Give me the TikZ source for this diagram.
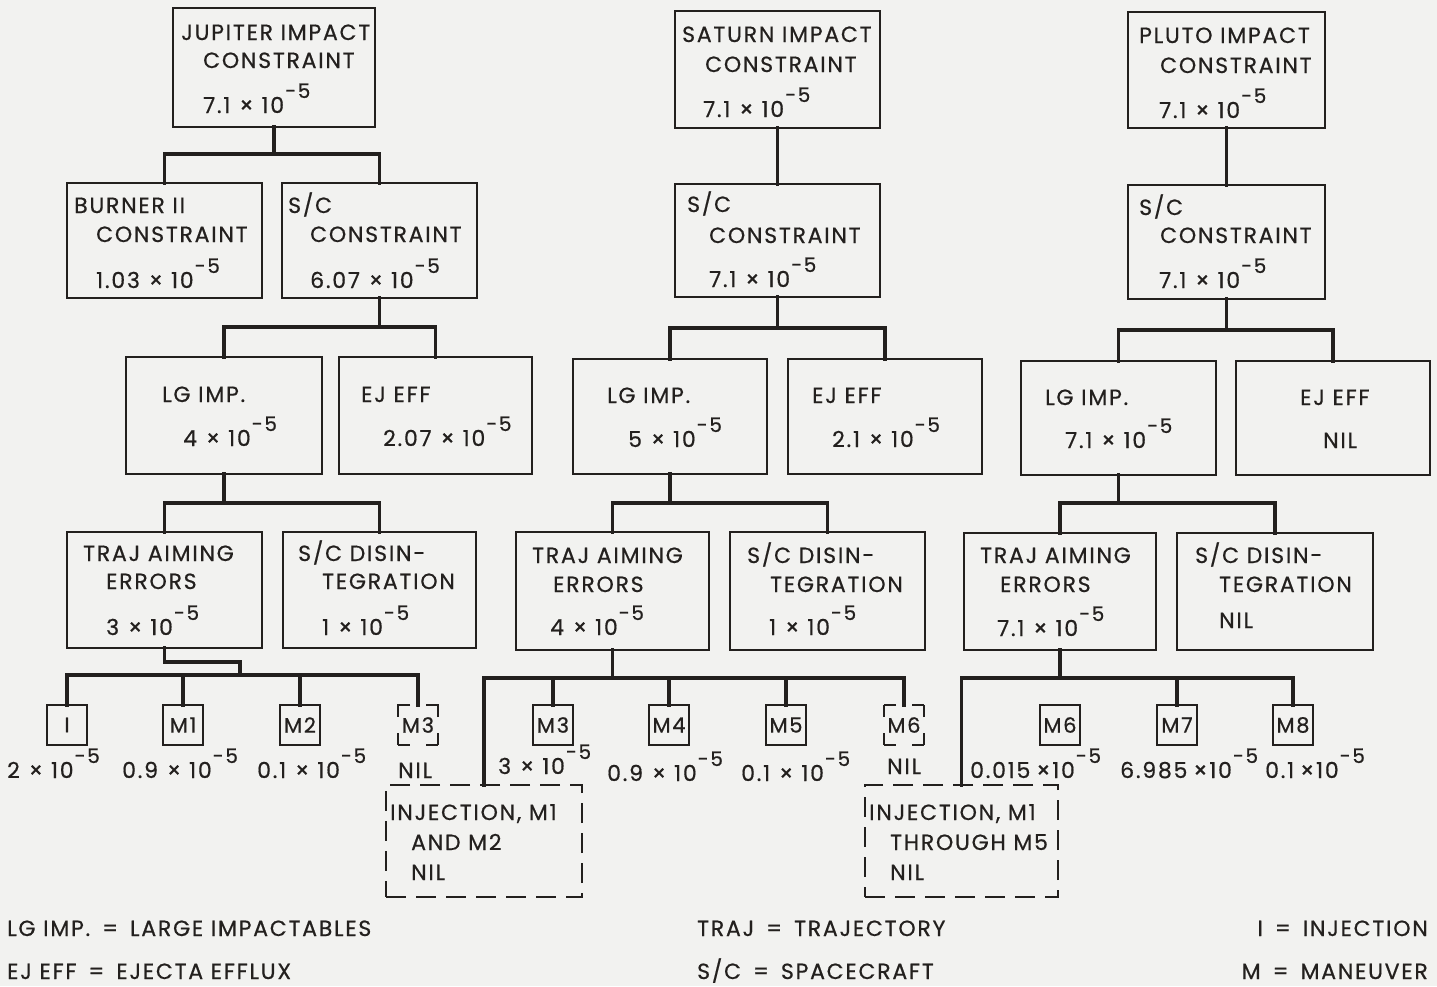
\documentclass[tikz,border=0pt]{standalone}
\usepackage{fontspec}
\setmainfont{Poppins}[LetterSpace=8, FakeBold=0.6]
\usetikzlibrary{calc}
\definecolor{ink}{RGB}{35,32,30}
\definecolor{paper}{RGB}{242,242,240}
\newcommand{\tenm}{10\hspace{1pt}\raisebox{15pt}{\fontsize{20}{20}\selectfont -5}}
\newcommand{\X}{\hspace{9pt}×\hspace{8pt}}
\newcommand{\Eq}{\hspace{12pt}=\hspace{12pt}}
\tikzset{
  box/.style={draw=ink, line width=2.2pt, rectangle, inner sep=0pt, outer sep=0pt},
  mbox/.style={box, minimum width=40pt, minimum height=40pt, font=\fontsize{21}{24}\selectfont, text=ink},
  mdash/.style={mbox, dash pattern=on 12pt off 16pt on 12pt off 0pt},
  dinj/.style={box, dash pattern=on 20pt off 10pt},
  txt/.style={anchor=base west, inner sep=0pt, text=ink, font=\fontsize{22}{26}\selectfont},
  rtxt/.style={txt, anchor=base east},
  conn/.style={draw=ink, line width=3.6pt, line join=miter, line cap=rect},
}
\newcommand{\bx}[6][box]{\node[#1, minimum width={#5-#3}, minimum height={#6-#4}] (#2) at ({(#3+#5)/2},{(#4+#6)/2}) {};}
\newcommand{\tl}[4]{\node[txt] (#1) at (#2,#3) {#4};}
\newcommand{\tree}[4]{%
  \draw[conn] (#1.south) -- (#1.south |- 0,#4);
  \draw[conn] (#2.north) |- (#3.north |- 0,#4) -- (#3.north);}
\begin{document}
\begin{tikzpicture}[x=1pt,y=-1pt]
\fill[paper] (0,0) rectangle (1437,986);
\useasboundingbox (0,0) rectangle (1437,986);

% ---------------- Jupiter ----------------
\bx{jtop}{173}{8}{375}{127}
\bx{jbur}{67}{183}{262}{298}
\bx{jsc}{282}{183}{477}{298}
\bx{jlg}{126}{357}{322}{474}
\bx{jej}{339}{357}{532}{474}
\bx{jtraj}{67}{532}{262}{648}
\bx{jdis}{283}{532}{476}{648}
\node[mbox] (jI) at (67,725) {I};
\node[mbox] (jM1) at (183,725) {M1};
\node[mbox] (jM2) at (300,725) {M2};
\node[mdash] (jM3) at (418,725) {M3};

\tl{ja1}{181}{40}{JUPITER IMPACT}
\tl{ja2}{203}{68}{CONSTRAINT}
\tl{ja3}{203}{113}{7.1\X\tenm}
\tl{jb1}{74}{213}{BURNER II}
\tl{jb2}{96}{242}{CONSTRAINT}
\tl{jb3}{96}{288}{1.03\X\tenm}
\tl{jc1}{288}{213}{S/C}
\tl{jc2}{310}{242}{CONSTRAINT}
\tl{jc3}{310}{288}{6.07\X\tenm}
\tl{jd1}{162}{402}{LG IMP.}
\tl{jd2}{183}{446}{4\X\tenm}
\tl{je1}{361}{402}{EJ EFF}
\tl{je2}{383}{446}{2.07\X\tenm}
\tl{jf1}{83}{561}{TRAJ AIMING}
\tl{jf2}{106}{589}{ERRORS}
\tl{jf3}{106}{635}{3\X\tenm}
\tl{jg1}{298}{561}{S/C DISIN-}
\tl{jg2}{322}{589}{TEGRATION}
\tl{jg3}{322}{635}{1\X\tenm}
\tl{jv1}{7}{778}{2\X\tenm}
\tl{jv2}{122}{778}{0.9\X\tenm}
\tl{jv3}{257}{778}{0.1\X\tenm}
\tl{jv4}{398}{778}{NIL}

\tree{jtop}{jbur}{jsc}{154}
\tree{jsc}{jlg}{jej}{327}
\tree{jlg}{jtraj}{jdis}{503}
\coordinate (jjog) at (240,662);
\draw[conn] (jtraj.south) |- (jjog) -- (jjog |- 0,675);
\draw[conn] (jI.north) |- (jM3.north |- 0,675) -- (jM3.north);
\draw[conn] (jM1.north) -- (jM1.north |- 0,675);
\draw[conn] (jM2.north) -- (jM2.north |- 0,675);

% ---------------- Saturn ----------------
\bx{stop}{675}{11}{880}{128}
\bx{ssc}{675}{184}{880}{297}
\bx{slg}{573}{359}{767}{474}
\bx{sej}{788}{359}{982}{474}
\bx{straj}{516}{532}{709}{650}
\bx{sdis}{730}{532}{925}{650}
\node[mbox] (sM3) at (553,725) {M3};
\node[mbox] (sM4) at (669,725) {M4};
\node[mbox] (sM5) at (786,725) {M5};
\node[mdash] (sM6) at (904,725) {M6};
\bx[dinj]{sinj}{386}{785}{582}{897}

\tl{sa1}{682}{42}{SATURN IMPACT}
\tl{sa2}{705}{72}{CONSTRAINT}
\tl{sa3}{703}{117}{7.1\X\tenm}
\tl{sb1}{687}{212}{S/C}
\tl{sb2}{709}{243}{CONSTRAINT}
\tl{sb3}{709}{287}{7.1\X\tenm}
\tl{sd1}{607}{403}{LG IMP.}
\tl{sd2}{628}{447}{5\X\tenm}
\tl{se1}{812}{403}{EJ EFF}
\tl{se2}{832}{447}{2.1\X\tenm}
\tl{sf1}{532}{563}{TRAJ AIMING}
\tl{sf2}{553}{592}{ERRORS}
\tl{sf3}{550}{635}{4\X\tenm}
\tl{sg1}{747}{563}{S/C DISIN-}
\tl{sg2}{770}{592}{TEGRATION}
\tl{sg3}{769}{635}{1\X\tenm}
\tl{sv1}{498}{774}{3\X\tenm}
\tl{sv2}{607}{781}{0.9\X\tenm}
\tl{sv3}{741}{781}{0.1\X\tenm}
\tl{sv4}{887}{774}{NIL}
\tl{si1}{390}{820}{INJECTION, M1}
\tl{si2}{411}{850}{AND M2}
\tl{si3}{411}{880}{NIL}

\draw[conn] (stop.south) -- (ssc.north);
\tree{ssc}{slg}{sej}{328}
\tree{slg}{straj}{sdis}{503}
\draw[conn] (straj.south) -- (straj.south |- 0,678);
\draw[conn] (sinj.north) |- (sM6.north |- 0,678) -- (sM6.north);
\draw[conn] (sM3.north) -- (sM3.north |- 0,678);
\draw[conn] (sM4.north) -- (sM4.north |- 0,678);
\draw[conn] (sM5.north) -- (sM5.north |- 0,678);

% ---------------- Pluto ----------------
\bx{ptop}{1128}{12}{1325}{128}
\bx{psc}{1128}{185}{1325}{299}
\bx{plg}{1021}{361}{1216}{475}
\bx{pej}{1236}{361}{1430}{475}
\bx{ptraj}{964}{533}{1156}{650}
\bx{pdis}{1177}{533}{1373}{650}
\node[mbox] (pM6) at (1060,725) {M6};
\node[mbox] (pM7) at (1177,725) {M7};
\node[mbox] (pM8) at (1293,725) {M8};
\bx[dinj]{pinj}{865}{785}{1058}{897}

\tl{pa1}{1139}{43}{PLUTO IMPACT}
\tl{pa2}{1160}{73}{CONSTRAINT}
\tl{pa3}{1159}{118}{7.1\X\tenm}
\tl{pb1}{1139}{215}{S/C}
\tl{pb2}{1160}{243}{CONSTRAINT}
\tl{pb3}{1159}{288}{7.1\X\tenm}
\tl{pd1}{1045}{405}{LG IMP.}
\tl{pd2}{1065}{448}{7.1\X\tenm}
\tl{pe1}{1300}{405}{EJ EFF}
\tl{pe2}{1323}{448}{NIL}
\tl{pf1}{980}{563}{TRAJ AIMING}
\tl{pf2}{1000}{592}{ERRORS}
\tl{pf3}{997}{636}{7.1\X\tenm}
\tl{pg1}{1195}{563}{S/C DISIN-}
\tl{pg2}{1219}{592}{TEGRATION}
\tl{pg3}{1219}{628}{NIL}
\tl{pv1}{970}{778}{0.015\hspace{6pt}×\tenm}
\tl{pv2}{1120}{778}{6.985\hspace{6pt}×\tenm}
\tl{pv3}{1265}{778}{0.1\hspace{6pt}×\tenm}
\tl{pi1}{869}{820}{INJECTION, M1}
\tl{pi2}{890}{850}{THROUGH M5}
\tl{pi3}{890}{880}{NIL}

\draw[conn] (ptop.south) -- (psc.north);
\tree{psc}{plg}{pej}{330}
\tree{plg}{ptraj}{pdis}{503}
\draw[conn] (ptraj.south) -- (ptraj.south |- 0,678);
\draw[conn] (pinj.north) |- (pM8.north |- 0,678) -- (pM8.north);
\draw[conn] (pM7.north) -- (pM7.north |- 0,678);

% ---------------- Legend ----------------
\tl{l1}{7}{936}{LG IMP.\Eq LARGE IMPACTABLES}
\tl{l2}{7}{979}{EJ EFF\Eq EJECTA EFFLUX}
\tl{l3}{697}{936}{TRAJ\Eq TRAJECTORY}
\tl{l4}{697}{979}{S/C\Eq SPACECRAFT}
\node[rtxt] (l5) at (1428,936) {I\Eq INJECTION};
\node[rtxt] (l6) at (1428,979) {M\Eq MANEUVER};
\end{tikzpicture}
\end{document}
